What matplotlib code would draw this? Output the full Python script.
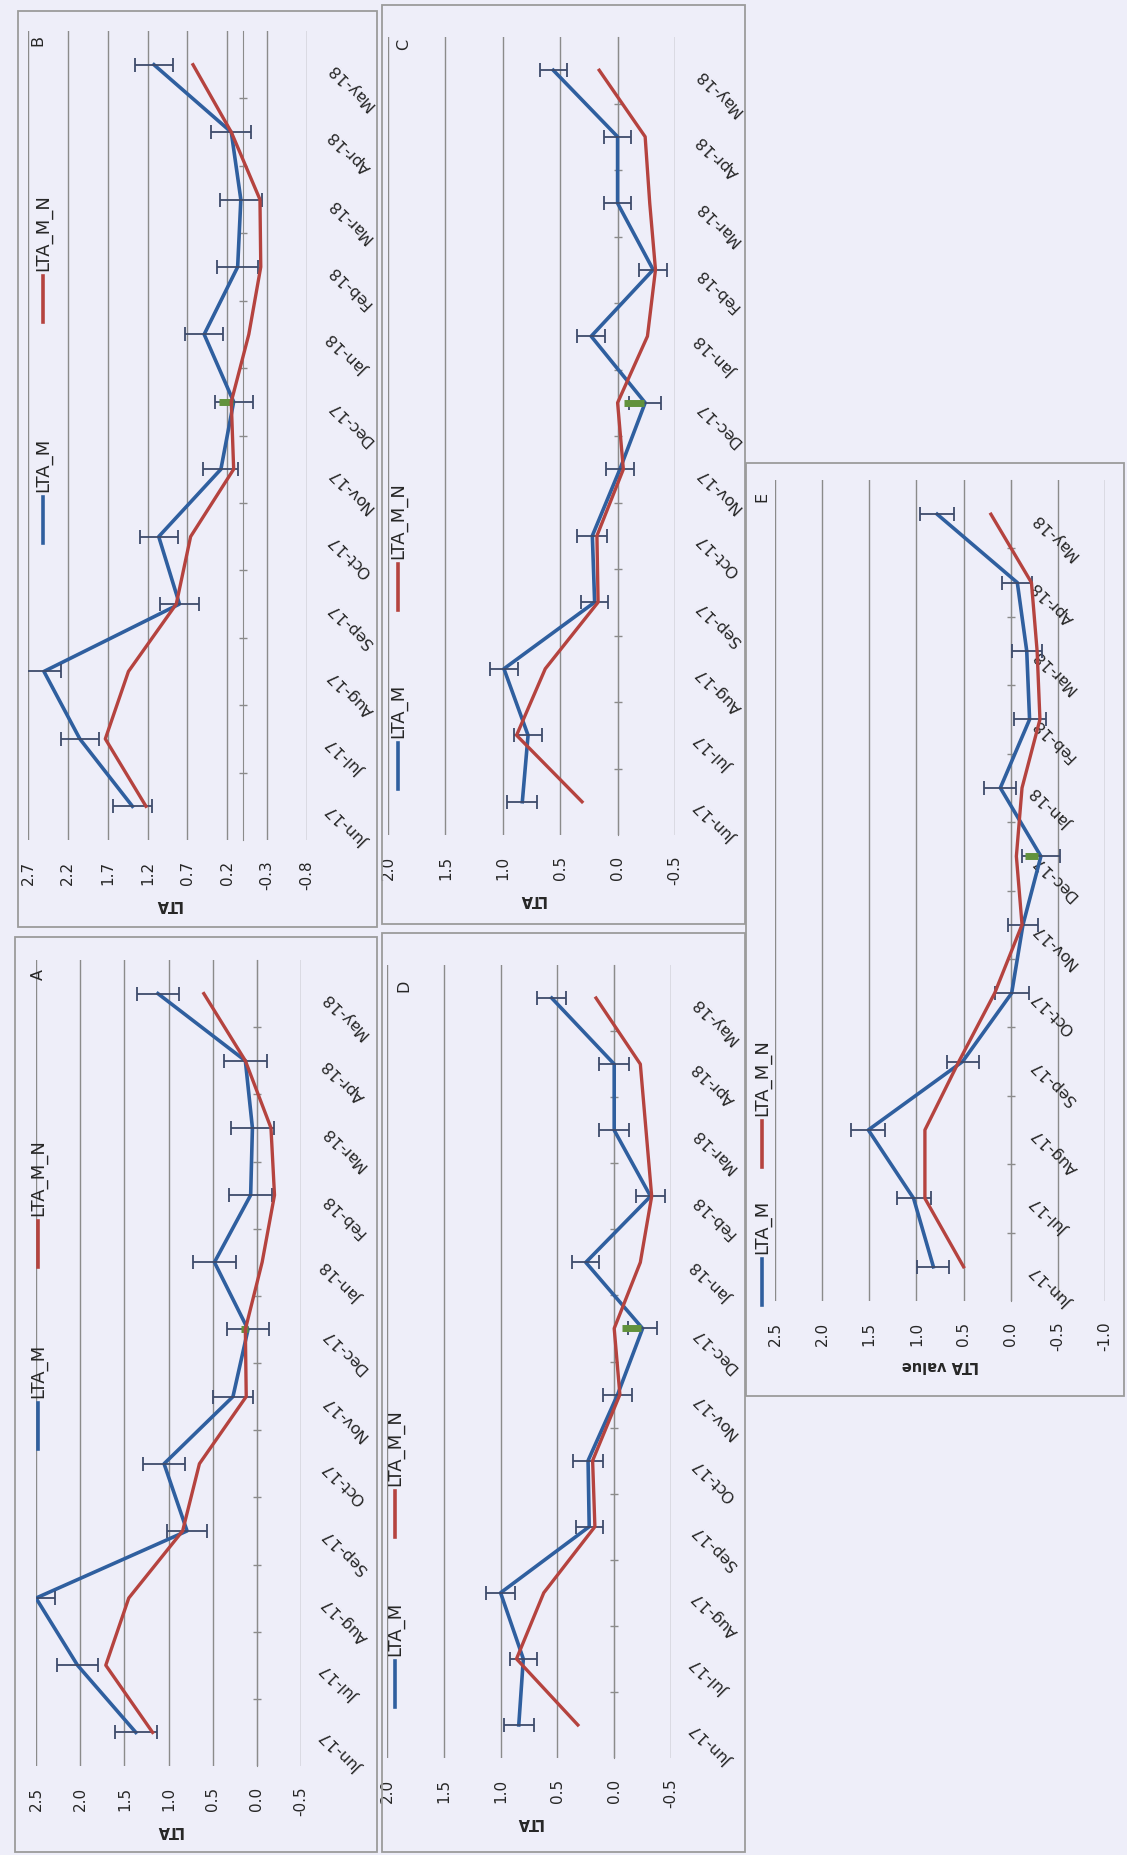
import numpy as np
import matplotlib
matplotlib.use('Agg')
import matplotlib.pyplot as plt
from matplotlib.lines import Line2D
from matplotlib.patches import Rectangle
from matplotlib.ticker import FixedLocator

plt.rcParams['font.family'] = ['DejaVu Sans']

months = ['Jun-17', 'Jul-17', 'Aug-17', 'Sep-17', 'Oct-17', 'Nov-17',
          'Dec-17', 'Jan-18', 'Feb-18', 'Mar-18', 'Apr-18', 'May-18']

# panel A
a_lta_m = [1.37, 2.03, 2.50, 0.79, 1.05, 0.27, 0.10, 0.48, 0.07, 0.05, 0.13, 1.12]
a_lta_mn = [1.18, 1.71, 1.45, 0.84, 0.65, 0.12, 0.13, -0.06, -0.20, -0.16, 0.13, 0.60]
a_err = [0.24, 0.23, 0.21, 0.23, 0.24, 0.23, 0.24, 0.24, 0.24, 0.24, 0.24, 0.24]
a_green = [0.10, 0.18]
a_ticks = [2.5, 2.0, 1.5, 1.0, 0.5, 0.0, -0.5]

# panel B
b_lta_m = [1.39, 2.05, 2.50, 0.80, 1.06, 0.28, 0.12, 0.49, 0.07, 0.03, 0.15, 1.12]
b_lta_mn = [1.22, 1.73, 1.44, 0.84, 0.66, 0.12, 0.15, -0.07, -0.22, -0.21, 0.15, 0.63]
b_err = [0.24, 0.24, 0.22, 0.24, 0.24, 0.22, 0.24, 0.24, 0.26, 0.26, 0.25, 0.24]
b_green = [0.13, 0.30]
b_ticks = [2.7, 2.2, 1.7, 1.2, 0.7, 0.2, -0.3, -0.8]

# panel C
c_lta_m = [0.83, 0.78, 0.99, 0.20, 0.22, -0.02, -0.24, 0.23, -0.31, 0.0, 0.0, 0.56]
c_lta_mn = [0.31, 0.88, 0.63, 0.17, 0.18, -0.05, 0.0, -0.26, -0.33, -0.28, -0.24, 0.16]
c_err = [0.13, 0.12, 0.12, 0.12, 0.13, 0.12, 0.14, 0.12, 0.12, 0.12, 0.12, 0.12]
c_green = [-0.23, -0.06]
c_ticks = [2.0, 1.5, 1.0, 0.5, 0.0, -0.5]

# panel D
d_lta_m = [0.84, 0.80, 1.00, 0.22, 0.23, -0.03, -0.25, 0.25, -0.32, 0.0, 0.0, 0.55]
d_lta_mn = [0.32, 0.86, 0.62, 0.17, 0.19, -0.05, 0.0, -0.23, -0.33, -0.28, -0.23, 0.16]
d_err = [0.13, 0.12, 0.13, 0.12, 0.13, 0.13, 0.13, 0.12, 0.13, 0.13, 0.13, 0.13]
d_green = [-0.24, -0.07]
d_ticks = [2.0, 1.5, 1.0, 0.5, 0.0, -0.5]

# panel E
e_lta_m = [0.82, 1.03, 1.51, 0.51, -0.01, -0.13, -0.32, 0.11, -0.20, -0.17, -0.07, 0.78]
e_lta_mn = [0.50, 0.91, 0.91, 0.55, 0.17, -0.12, -0.06, -0.12, -0.31, -0.28, -0.22, 0.21]
e_err = [0.17, 0.18, 0.18, 0.17, 0.18, 0.16, 0.20, 0.17, 0.17, 0.16, 0.16, 0.18]
e_green = [-0.29, -0.15]
e_ticks = [2.5, 2.0, 1.5, 1.0, 0.5, 0.0, -0.5, -1.0]

W, H = 1127, 1856
bg = '#eeeef9'
blue = '#2f5f9f'
red = '#b5433f'
errc = '#3d4b6b'
grid = '#8b8b8b'
frame_col = '#9b9b9b'
txt = '#262626'

fig = plt.figure(figsize=(W / 100, H / 100), dpi=100)
fig.patch.set_facecolor(bg)


def fx(x):
    return x / W


def fy(y):
    return 1 - y / H


def legend(x, ybot, rbot, kl=46, gap=6, size=13):
    # drawn by hand because the whole page is turned on its side
    fig.add_artist(Line2D([fx(x)] * 2, [fy(ybot), fy(ybot - kl)],
                          transform=fig.transFigure, color=blue, lw=2.6))
    fig.text(fx(x), fy(ybot - kl - gap), 'LTA_M', rotation=90,
             rotation_mode='anchor', ha='left', va='center',
             fontsize=size, color=txt)
    fig.add_artist(Line2D([fx(x)] * 2, [fy(rbot), fy(rbot - kl)],
                          transform=fig.transFigure, color=red, lw=2.6))
    fig.text(fx(x), fy(rbot - kl - gap), 'LTA_M_N', rotation=90,
             rotation_mode='anchor', ha='left', va='center',
             fontsize=size, color=txt)


def draw_panel(letter, m, mn, err, green, ticks, xlabel, box, area,
               letter_xy, leg, on_axis=False):
    bx0, by0, bx1, by1 = box
    fig.add_artist(Rectangle((fx(bx0), fy(by1)), (bx1 - bx0) / W, (by1 - by0) / H,
                             transform=fig.transFigure, fill=False,
                             ec=frame_col, lw=1.3))
    x0, y0, x1, y1 = area
    ax = fig.add_axes([fx(x0), fy(y1), (x1 - x0) / W, (y1 - y0) / H])
    ax.patch.set_visible(False)
    pos = np.arange(len(months))

    ax.set_xlim(ticks[0], ticks[-1])
    ax.set_ylim(-0.5, len(months) - 0.5)
    ax.set_xticks(ticks)
    ax.set_xticklabels(['%.1f' % t for t in ticks], rotation=90, va='top',
                       fontsize=11, color=txt)
    ax.tick_params(axis='x', length=0, pad=14)
    ax.grid(axis='x', color=grid, lw=1.0)
    ax.set_axisbelow(True)
    for s in ['left', 'top', 'bottom']:
        ax.spines[s].set_visible(False)
    # category axis crosses at 0
    ax.spines['right'].set_position(('data', 0))
    ax.spines['right'].set_color(grid)
    ax.yaxis.set_ticks_position('right')
    ax.yaxis.set_minor_locator(FixedLocator(pos[:-1] + 0.5))
    ax.tick_params(axis='y', which='minor', length=6, direction='inout',
                   color=grid, width=1)
    lab_kw = dict(rotation=135, rotation_mode='anchor', ha='right',
                  va='center', fontsize=11.5, color=txt)
    if on_axis:
        ax.set_yticks(pos, labels=months, **lab_kw)
        ax.tick_params(axis='y', which='major', length=0, pad=17)
    else:
        ax.set_yticks(pos)
        ax.tick_params(axis='y', which='major', length=0, labelright=False)
        sec = ax.secondary_yaxis('right')
        sec.set_yticks(pos, labels=months, **lab_kw)
        sec.tick_params(length=0, pad=17)
        for s in sec.spines.values():
            s.set_visible(False)
    ax.set_xlabel(xlabel, rotation=180, fontweight='bold', fontsize=10.5,
                  color=txt, labelpad=5)

    ax.plot(m, pos, color=blue, lw=2.6, zorder=3)
    ax.errorbar(m, pos, xerr=err, fmt='none', ecolor=errc, elinewidth=1.3,
                capsize=5, capthick=1.3, zorder=4)
    dec = months.index('Dec-17')
    ax.plot(green, [pos[dec]] * 2, color='#62923c', lw=5,
            solid_capstyle='butt', zorder=4.5)
    ax.plot(mn, pos, color=red, lw=2.4, zorder=5)

    fig.text(fx(letter_xy[0]), fy(letter_xy[1]), letter, rotation=90,
             ha='center', va='center', fontsize=11.5, color=txt)
    legend(*leg)
    return ax


draw_panel('B', b_lta_m, b_lta_mn, b_err, b_green, b_ticks, 'LTA',
           (18, 12, 377, 928), (28, 32, 307, 841), (38, 40), (43, 544, 323))
draw_panel('C', c_lta_m, c_lta_mn, c_err, c_green, c_ticks, 'LTA',
           (382, 6, 745, 925), (388, 38, 675, 836), (404, 44), (398, 790, 611))
draw_panel('A', a_lta_m, a_lta_mn, a_err, a_green, a_ticks, 'LTA',
           (15, 938, 377, 1853), (36, 961, 301, 1767), (38, 975), (38, 1450, 1268))
draw_panel('D', d_lta_m, d_lta_mn, d_err, d_green, d_ticks, 'LTA',
           (382, 934, 745, 1853), (387, 966, 671, 1759), (404, 986), (395, 1708, 1538))
draw_panel('E', e_lta_m, e_lta_mn, e_err, e_green, e_ticks, 'LTA value',
           (746, 464, 1124, 1397), (775, 481, 1105, 1302), (762, 497), (762, 1306, 1168),
           on_axis=True)

fig.savefig('out.png', dpi=100, facecolor=bg)
